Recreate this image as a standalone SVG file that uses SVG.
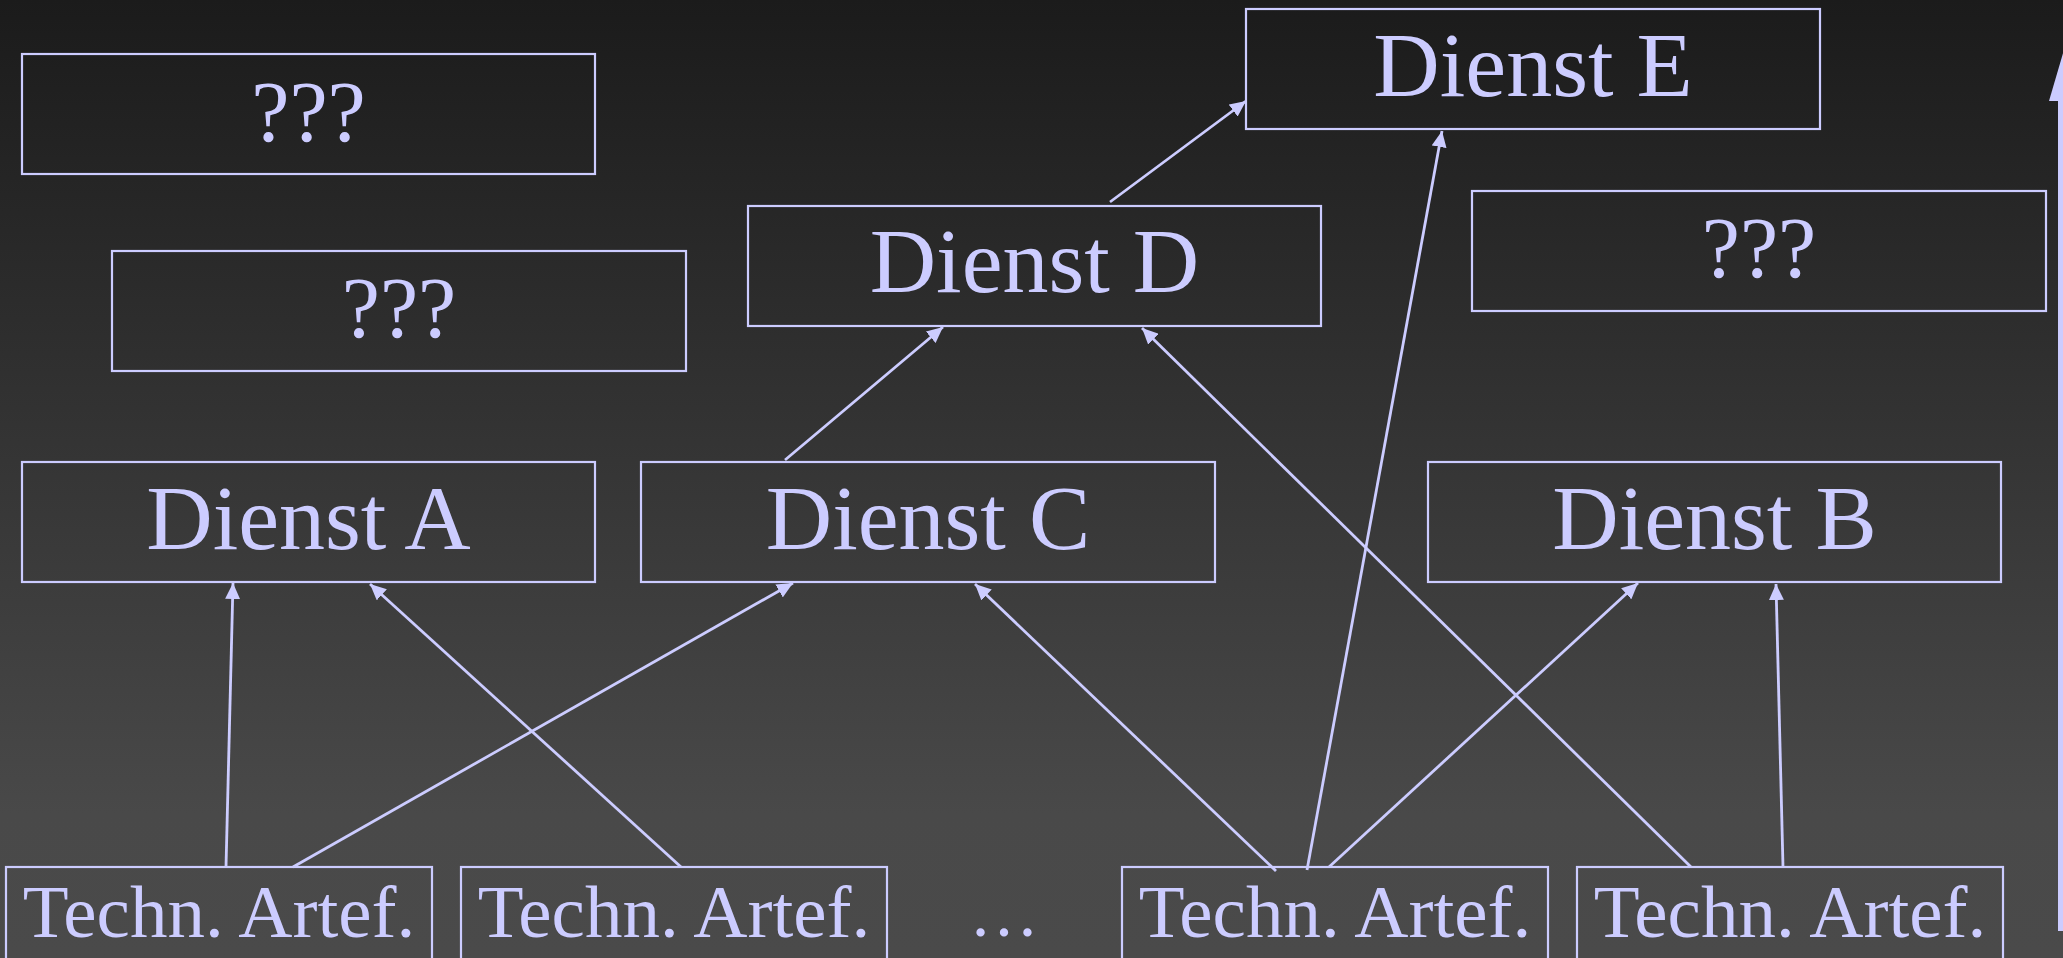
<svg xmlns="http://www.w3.org/2000/svg" width="2063" height="958" viewBox="0 0 2063 958">
<defs>
<linearGradient id="bg" x1="0" y1="0" x2="0" y2="958" gradientUnits="userSpaceOnUse">
<stop offset="0" stop-color="#1b1b1b"/>
<stop offset="0.85" stop-color="#494949"/>
<stop offset="1" stop-color="#4a4a4a"/>
</linearGradient>
<marker id="ah" markerUnits="userSpaceOnUse" markerWidth="16" markerHeight="15" refX="16" refY="7.5" orient="auto">
<path d="M0,0 L16,7.5 L0,15 z" fill="#ccccff"/>
</marker>
<style>
.box{fill:none;stroke:#ccccff;stroke-width:2.2}
.lbl{font-family:"Liberation Serif","DejaVu Serif",serif;fill:#ccccff;text-anchor:middle}
.big{font-size:92px}
.q{font-size:86px}
.small{font-size:75px}
.con{stroke:#ccccff;stroke-width:2.8;fill:none;marker-end:url(#ah)}
</style>
</defs>
<rect x="0" y="0" width="2063" height="958" fill="url(#bg)"/>

<g id="q1"><rect class="box" x="22" y="54" width="573" height="120"/><text class="lbl q" x="308.5" y="141">???</text></g>
<g id="q2"><rect class="box" x="112" y="251" width="574" height="120"/><text class="lbl q" x="399" y="337">???</text></g>
<g id="q3"><rect class="box" x="1472" y="191" width="574" height="120"/><text class="lbl q" x="1759" y="277">???</text></g>
<g id="dienstE"><rect class="box" x="1246" y="9" width="574" height="120"/><text class="lbl big" x="1533" y="96">Dienst E</text></g>
<g id="dienstD"><rect class="box" x="748" y="206" width="573" height="120"/><text class="lbl big" x="1034.5" y="292">Dienst D</text></g>
<g id="dienstA"><rect class="box" x="22" y="462" width="573" height="120"/><text class="lbl big" x="308.5" y="549">Dienst A</text></g>
<g id="dienstC"><rect class="box" x="641" y="462" width="574" height="120"/><text class="lbl big" x="928" y="549">Dienst C</text></g>
<g id="dienstB"><rect class="box" x="1428" y="462" width="573" height="120"/><text class="lbl big" x="1714.5" y="549">Dienst B</text></g>
<g id="ta1"><rect class="box" x="6" y="867" width="426" height="130"/><text class="lbl small" x="219" y="937">Techn. Artef.</text></g>
<g id="ta2"><rect class="box" x="461" y="867" width="426" height="130"/><text class="lbl small" x="674" y="937">Techn. Artef.</text></g>
<g id="ellipsis"><text class="lbl small" x="1004" y="936" style="font-size:70px">…</text></g>
<g id="ta3"><rect class="box" x="1122" y="867" width="426" height="130"/><text class="lbl small" x="1335" y="937">Techn. Artef.</text></g>
<g id="ta4"><rect class="box" x="1577" y="867" width="426" height="130"/><text class="lbl small" x="1790" y="937">Techn. Artef.</text></g>

<g id="connectors">
<line class="con" x1="1110" y1="202" x2="1246" y2="101"/>
<line class="con" x1="785" y1="460" x2="943" y2="327"/>
<line class="con" x1="1307" y1="870" x2="1442" y2="131"/>
<line class="con" x1="1691" y1="867" x2="1142" y2="328"/>
<line class="con" x1="226" y1="867" x2="233" y2="583"/>
<line class="con" x1="293" y1="867" x2="793" y2="583"/>
<line class="con" x1="681" y1="867" x2="370" y2="584"/>
<line class="con" x1="1276" y1="871" x2="975" y2="584"/>
<line class="con" x1="1329" y1="867" x2="1638" y2="583"/>
<line class="con" x1="1783" y1="867" x2="1776" y2="584"/>
</g>
<g id="bigArrow">
<rect x="2058" y="100" width="8" height="831" fill="#ccccff"/>
<path d="M2049,101 L2066,43 L2083,101 z" fill="#ccccff"/>
</g>
</svg>
